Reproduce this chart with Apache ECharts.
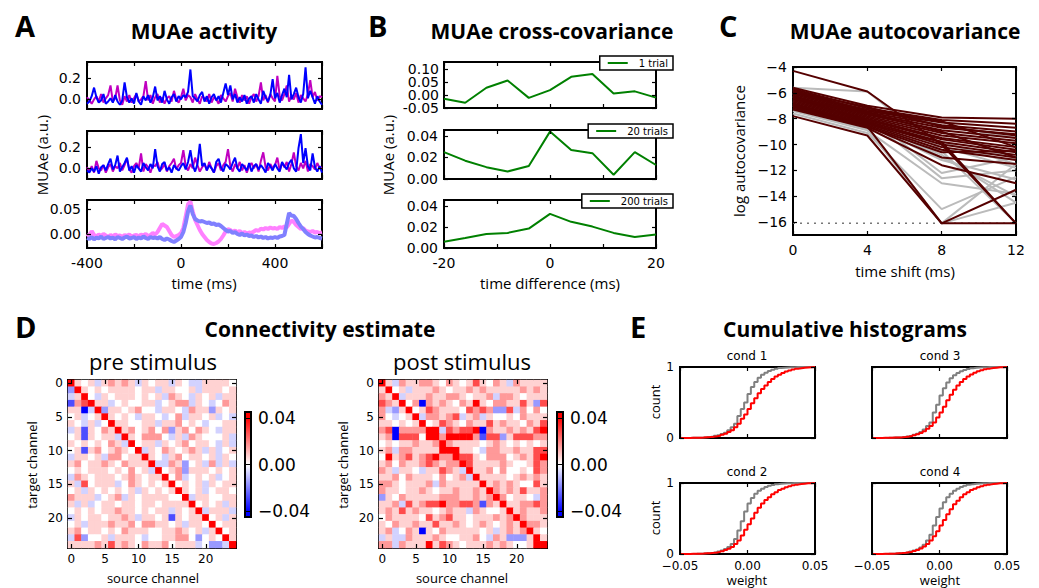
<!DOCTYPE html>
<html>
<head>
<meta charset="utf-8">
<title>MUAe figure</title>
<script src="https://cdn.jsdelivr.net/npm/echarts@6/dist/echarts.min.js"></script>
<style>
  html, body { margin: 0; padding: 0; background: #fff; }
  #chart { width: 1039px; height: 588px; }
</style>
</head>
<body>
<div id="chart"></div>
<script>
  // ---------------- data ----------------
  // A: MUAe activity, sampled every 10 ms from -400 to 600 ms
  const timeMs = [];
  for (let t = -400; t <= 600; t += 10) timeMs.push(t);

  const magentaTrial1 = [
    0.02, -0.01, -0.04, 0.00, 0.03, -0.02, 0.05, -0.03, 0.01, 0.04,
    0.13, -0.02, 0.01, 0.13, -0.01, -0.05, 0.03, -0.02, 0.04, -0.03,
    0.01, 0.05, -0.02, 0.00, 0.03, 0.17, -0.01, 0.04, -0.04, 0.02,
    0.05, -0.03, 0.02, -0.04, 0.01, 0.03, -0.02, 0.08, 0.00, -0.03,
    0.02, 0.10, -0.01, 0.04, 0.02, -0.03, 0.05, 0.00, -0.04, 0.03,
    0.01, -0.02, 0.05, -0.03, 0.02, 0.00, -0.04, 0.04, 0.01, -0.02,
    0.03, 0.06, -0.02, 0.10, 0.02, -0.03, 0.04, -0.01, 0.03, -0.04,
    0.02, 0.05, -0.02, 0.03, 0.16, -0.01, 0.04, -0.03, 0.05, 0.01,
    -0.02, 0.22, 0.03, -0.01, 0.05, 0.13, -0.02, 0.03, 0.00, 0.06,
    -0.03, 0.04, 0.01, -0.02, 0.05, 0.18, 0.02, 0.07, -0.01, 0.03,
    0.02
  ];
  const blueTrial1 = [
    -0.04, -0.02, 0.03, 0.11, 0.02, -0.03, -0.01, 0.05, -0.04, -0.02,
    0.01, -0.03, 0.04, -0.02, -0.05, -0.01, 0.16, 0.02, -0.03, 0.01,
    -0.04, 0.06, -0.02, -0.05, 0.03, -0.01, 0.04, -0.03, 0.02, 0.12,
    -0.01, 0.03, -0.03, 0.08, 0.00, -0.04, 0.02, 0.05, -0.02, 0.03,
    0.00, 0.04, 0.02, 0.07, 0.28, 0.03, 0.01, -0.02, 0.04, 0.07,
    -0.02, 0.03, -0.04, 0.02, 0.05, -0.01, 0.03, -0.03, 0.06, 0.15,
    0.04, 0.13, 0.00, 0.05, -0.03, 0.02, -0.02, 0.04, -0.04, 0.01,
    0.03, -0.03, 0.05, 0.00, -0.04, 0.08, 0.02, -0.02, 0.04, 0.19,
    0.01, 0.06, -0.03, 0.04, 0.10, 0.02, 0.23, 0.00, 0.05, 0.11,
    0.02, -0.03, 0.05, 0.30, 0.01, 0.08, 0.02, -0.04, 0.03, -0.02,
    -0.05
  ];
  const magentaTrial2 = [
    0.01, -0.03, 0.02, -0.04, 0.07, 0.00, -0.02, 0.03, -0.04, 0.01,
    0.04, -0.03, 0.02, 0.00, 0.05, -0.02, 0.03, 0.09, -0.01, -0.04,
    0.02, 0.05, 0.00, 0.14, -0.03, 0.04, 0.01, -0.04, 0.03, 0.02,
    0.06, -0.02, 0.00, 0.04, -0.03, 0.02, 0.05, 0.09, -0.01, 0.03,
    0.05, 0.17, 0.02, -0.02, 0.04, 0.00, 0.10, 0.03, -0.03, 0.01,
    0.04, -0.02, 0.06, 0.00, -0.04, 0.02, 0.05, -0.02, 0.03, 0.06,
    0.18, 0.02, -0.03, 0.04, 0.00, 0.06, -0.02, 0.03, -0.04, 0.02,
    0.05, 0.00, 0.04, -0.03, 0.07, 0.15, 0.01, -0.02, 0.04, 0.00,
    0.03, 0.10, -0.02, 0.05, 0.01, 0.06, -0.03, 0.04, 0.15, 0.02,
    -0.02, 0.05, 0.00, 0.07, -0.03, 0.04, 0.02, -0.01, 0.05, 0.00,
    0.01
  ];
  const blueTrial2 = [
    -0.02, -0.04, 0.00, -0.03, 0.02, -0.05, 0.01, 0.03, -0.02, 0.04,
    0.09, -0.01, 0.03, 0.12, -0.03, 0.01, 0.05, 0.10, -0.02, 0.02,
    -0.04, 0.03, 0.00, -0.03, 0.05, 0.01, -0.02, 0.04, 0.00, 0.18,
    0.02, -0.03, 0.04, 0.06, -0.02, 0.01, -0.04, 0.03, 0.00, -0.02,
    0.02, 0.05, -0.01, 0.06, 0.17, 0.03, -0.03, 0.04, 0.23, 0.02,
    0.05, -0.02, 0.03, 0.00, -0.04, 0.06, 0.09, 0.01, -0.03, 0.04,
    0.02, -0.01, 0.05, 0.10, 0.00, -0.03, 0.04, 0.01, -0.02, 0.05,
    -0.03, 0.02, 0.04, -0.01, 0.03, 0.00, -0.04, 0.05, 0.02, -0.02,
    0.04, 0.00, -0.03, 0.06, 0.02, -0.01, 0.05, 0.08, 0.00, -0.03,
    0.19, 0.32, 0.05, 0.19, 0.02, -0.02, 0.14, 0.01, -0.03, 0.02,
    -0.04
  ];
  const magentaAverage = [
    0.000, -0.004, 0.006, -0.002, -0.005, -0.001, -0.004, 0.000, -0.003, -0.006,
    -0.002, -0.005, -0.001, -0.004, -0.003, -0.006, -0.002, -0.004, -0.001, -0.005,
    -0.003, -0.002, -0.005, -0.001, -0.003, 0.000, -0.004, -0.002, 0.002, -0.001,
    0.004, 0.012, 0.020, 0.017, 0.014, 0.006, -0.002, -0.006, -0.004, -0.002,
    0.002, 0.012, 0.035, 0.060, 0.065, 0.045, 0.028, 0.018, 0.008, 0.000,
    -0.006, -0.012, -0.016, -0.019, -0.020, -0.018, -0.015, -0.010, -0.003, 0.005,
    0.010, 0.008, 0.004, 0.007, 0.003, 0.006, 0.002, 0.004, 0.001, 0.003,
    0.002, 0.005, 0.008, 0.006, 0.011, 0.009, 0.012, 0.010, 0.013, 0.011,
    0.012, 0.010, 0.014, 0.012, 0.015, 0.013, 0.020, 0.027, 0.024, 0.018,
    0.014, 0.010, 0.012, 0.007, 0.005, 0.004, 0.006, 0.003, 0.004, 0.002,
    0.003
  ];
  const blueAverage = [
    -0.008, -0.010, -0.006, -0.011, -0.007, -0.009, -0.005, -0.010, -0.008, -0.006,
    -0.009, -0.007, -0.011, -0.006, -0.008, -0.010, -0.007, -0.005, -0.009, -0.008,
    -0.006, -0.010, -0.007, -0.009, -0.005, -0.008, -0.010, -0.006, -0.008, -0.007,
    -0.009, -0.006, -0.010, -0.012, -0.009, -0.011, -0.014, -0.016, -0.013, -0.010,
    -0.006, 0.004, 0.022, 0.045, 0.057, 0.040, 0.030, 0.027, 0.025, 0.026,
    0.024, 0.022, 0.023, 0.020, 0.021, 0.018, 0.019, 0.016, 0.012, 0.008,
    0.005, 0.006, 0.002, 0.004, 0.000, -0.002, 0.001, -0.003, -0.001, -0.004,
    -0.003, -0.006, -0.004, -0.007, -0.005, -0.008, -0.006, -0.009, -0.007, -0.008,
    -0.006, -0.008, -0.005, -0.004, -0.002, 0.020, 0.042, 0.037, 0.036, 0.030,
    0.022, 0.015, 0.010, 0.004, 0.000, -0.003, -0.005, -0.007, -0.006, -0.008,
    -0.009
  ];

  // B: cross-covariance vs. time difference
  const lagMs = [-20, -16, -12, -8, -4, 0, 4, 8, 12, 16, 20];
  const xcov1Trial = [-0.014, -0.030, 0.028, 0.056, -0.011, 0.019, 0.070, 0.081, 0.006, 0.014, -0.010];
  const xcov20Trials = [0.025, 0.017, 0.011, 0.007, 0.012, 0.044, 0.027, 0.024, 0.004, 0.025, 0.013];
  const xcov200Trials = [0.006, 0.0095, 0.0133, 0.0143, 0.0184, 0.0324, 0.0248, 0.0203, 0.0143, 0.0105, 0.0127];

  // C: log autocovariance at time shifts 0, 4, 8, 12 ms
  const shiftMs = [0, 4, 8, 12];
  const floorLevel = -16.1;
  const grayLines = [
    [-5.6, -5.9, -10.5, -16.1],
    [-6.2, -7.8, -12.2, -11.0],
    [-6.5, -8.0, -12.6, -12.0],
    [-6.8, -8.4, -11.2, -12.7],
    [-7.0, -8.6, -16.1, -11.5],
    [-7.2, -8.8, -16.1, -14.5],
    [-6.6, -8.1, -11.0, -14.0],
    [-6.9, -8.3, -10.8, -14.5],
    [-7.4, -8.9, -13.0, -13.8],
    [-6.0, -7.5, -9.0, -11.0],
    [-6.3, -7.8, -9.8, -11.5],
    [-5.8, -7.2, -8.5, -9.5],
    [-6.1, -7.9, -10.2, -11.8],
    [-7.6, -9.1, -15.0, -12.5],
    [-6.7, -8.3, -10.5, -10.8]
  ];
  const darkLines = [
    [-4.3, -5.9, -10.0, -16.1],
    [-5.6, -7.0, -7.9, -8.0],
    [-5.7, -7.2, -8.1, -8.4],
    [-5.8, -7.4, -8.3, -8.7],
    [-5.9, -7.5, -8.5, -9.0],
    [-6.0, -7.6, -8.7, -9.2],
    [-6.1, -7.7, -8.9, -9.5],
    [-6.2, -7.8, -9.1, -9.7],
    [-6.3, -7.9, -9.3, -9.9],
    [-6.4, -8.0, -9.5, -10.2],
    [-6.5, -8.1, -9.6, -10.4],
    [-6.6, -8.2, -9.8, -10.6],
    [-6.7, -8.3, -10.0, -10.8],
    [-6.8, -8.4, -10.2, -11.0],
    [-6.9, -8.5, -10.4, -11.2],
    [-7.0, -8.6, -10.6, -10.5],
    [-7.2, -8.6, -11.0, -11.5],
    [-7.3, -8.7, -11.6, -13.0],
    [-7.8, -9.3, -16.1, -13.5],
    [-7.1, -8.6, -16.1, -16.1],
    [-6.9, -8.4, -9.8, -16.1],
    [-6.0, -7.3, -8.2, -10.2],
    [-6.4, -7.6, -9.0, -11.0],
    [-5.9, -7.1, -8.6, -9.3]
  ];

  // D: connectivity, one string per target channel; each digit is a level,
  // looked up in connLevels (4 = zero, 8 = strongest positive)
  const connLevels = [-0.04, -0.028, -0.016, -0.007, 0, 0.007, 0.016, 0.028, 0.04];
  const preStimRows = [
    '85453 56565 35455 35433 55554',
    '28545 45555 45535 54453 55545',
    '35843 54555 45453 65435 45355',
    '16785 53454 45534 56635 43465',
    '55038 25545 64435 54365 52545',
    '45345 85454 35543 46355 45343',
    '54353 48554 45535 56454 34455',
    '35154 65856 45646 25646 54355',
    '45154 55385 46664 35365 44453',
    '54545 46538 45535 45645 54353',
    '45156 45654 83546 54565 35345',
    '35545 36645 58543 56455 45354',
    '56455 65465 55833 65245 36353',
    '45455 54546 45384 56255 54545',
    '36545 55456 54558 46345 45345',
    '53745 55346 54545 84545 35455',
    '45354 54545 35454 58545 34554',
    '65553 45635 45555 44835 54455',
    '53534 55455 45545 55584 54535',
    '45454 55655 45455 35458 35553',
    '35455 45565 35545 15455 84535',
    '45355 56556 46655 45355 48455',
    '56455 45465 55445 56545 35845',
    '37244 53555 43445 56642 45485',
    '55556 57565 46556 45553 42238'
  ];
  const postStimRows = [
    '85365 56654 65457 54653 65555',
    '58453 55565 45565 65555 56565',
    '65835 55655 66545 56366 54555',
    '76584 60656 54658 54665 57527',
    '63258 45765 55476 76227 36464',
    '64345 83665 67356 35445 46555',
    '55454 58457 65465 57565 54657',
    '67066 66883 76778 06556 56578',
    '56077 74886 88886 17725 77766',
    '45455 65568 65555 45654 54545',
    '56366 55558 88554 36655 65577',
    '48567 56786 68775 46664 56578',
    '56465 56765 66875 55565 44576',
    '65355 43557 65385 56464 45476',
    '55646 55546 45638 55554 56565',
    '66545 55636 55555 85656 54475',
    '65545 56545 56556 58656 57556',
    '25465 55556 66556 56864 55436',
    '55637 56778 66776 16585 56676',
    '56575 65545 65536 54458 56556',
    '46555 54756 75545 55656 86555',
    '54655 65575 56545 65456 58665',
    '56346 50546 55555 45356 56854',
    '35336 55565 44556 43652 22585',
    '66365 55857 65455 56565 44588'
  ];
  const colorbarTicks = [-0.04, 0, 0.04];

  // E: cumulative histograms, bins of 0.0025 from -0.05 to 0.05
  const weightBins = [];
  for (let i = 0; i <= 40; i++) weightBins.push(Math.round((-0.05 + i * 0.0025) * 10000) / 10000);
  const grayCond1 = [0, 0, 0, 0.002, 0.003, 0.005, 0.007, 0.01, 0.015, 0.02, 0.03, 0.04, 0.055, 0.075, 0.11, 0.15, 0.2, 0.31, 0.41, 0.5, 0.62, 0.72, 0.79, 0.85, 0.89, 0.92, 0.945, 0.96, 0.975, 0.985, 0.99, 0.994, 0.997, 0.998, 0.999, 1, 1, 1, 1, 1, 1];
  const redCond1 = [0, 0, 0.001, 0.002, 0.003, 0.005, 0.007, 0.01, 0.013, 0.018, 0.025, 0.033, 0.045, 0.06, 0.085, 0.11, 0.15, 0.2, 0.27, 0.33, 0.41, 0.49, 0.56, 0.63, 0.69, 0.74, 0.79, 0.83, 0.865, 0.89, 0.915, 0.935, 0.95, 0.965, 0.975, 0.983, 0.99, 0.994, 0.997, 0.999, 1];
  const grayCond2 = [0, 0, 0, 0.001, 0.002, 0.004, 0.006, 0.009, 0.013, 0.018, 0.026, 0.036, 0.05, 0.07, 0.1, 0.14, 0.21, 0.33, 0.46, 0.6, 0.71, 0.79, 0.85, 0.89, 0.92, 0.945, 0.96, 0.972, 0.982, 0.989, 0.993, 0.996, 0.998, 0.999, 1, 1, 1, 1, 1, 1, 1];
  const redCond2 = [0, 0, 0.001, 0.002, 0.003, 0.004, 0.006, 0.009, 0.012, 0.016, 0.022, 0.03, 0.04, 0.055, 0.075, 0.1, 0.14, 0.19, 0.26, 0.34, 0.42, 0.5, 0.58, 0.65, 0.71, 0.76, 0.8, 0.84, 0.87, 0.9, 0.92, 0.94, 0.955, 0.967, 0.977, 0.985, 0.991, 0.995, 0.998, 0.999, 1];
  const grayCond3 = [0, 0, 0, 0.001, 0.002, 0.004, 0.006, 0.008, 0.012, 0.017, 0.024, 0.033, 0.045, 0.06, 0.085, 0.12, 0.17, 0.22, 0.36, 0.47, 0.6, 0.7, 0.78, 0.84, 0.885, 0.915, 0.94, 0.958, 0.972, 0.982, 0.989, 0.993, 0.996, 0.998, 0.999, 1, 1, 1, 1, 1, 1];
  const redCond3 = [0, 0, 0.001, 0.002, 0.003, 0.004, 0.006, 0.008, 0.011, 0.015, 0.021, 0.028, 0.038, 0.052, 0.07, 0.095, 0.13, 0.17, 0.22, 0.29, 0.36, 0.44, 0.53, 0.61, 0.68, 0.74, 0.79, 0.83, 0.865, 0.895, 0.92, 0.94, 0.955, 0.967, 0.977, 0.985, 0.991, 0.995, 0.998, 0.999, 1];
  const grayCond4 = [0, 0, 0, 0.001, 0.002, 0.004, 0.006, 0.009, 0.013, 0.018, 0.025, 0.035, 0.048, 0.065, 0.09, 0.13, 0.19, 0.27, 0.4, 0.52, 0.64, 0.73, 0.8, 0.85, 0.89, 0.92, 0.945, 0.962, 0.975, 0.984, 0.99, 0.994, 0.997, 0.998, 0.999, 1, 1, 1, 1, 1, 1];
  const redCond4 = [0, 0, 0.001, 0.002, 0.003, 0.005, 0.007, 0.01, 0.013, 0.017, 0.023, 0.031, 0.042, 0.057, 0.078, 0.105, 0.14, 0.19, 0.25, 0.32, 0.4, 0.48, 0.56, 0.63, 0.7, 0.75, 0.8, 0.84, 0.87, 0.9, 0.92, 0.94, 0.955, 0.967, 0.977, 0.985, 0.991, 0.995, 0.998, 0.999, 1];

  // ---------------- helpers ----------------
  const TICK_FONT = 'DejaVu Sans';
  const MINUS = '\u2212';

  const grids = [], xAxes = [], yAxes = [], series = [];

  function zip(xs, ys) {
    return xs.map((x, i) => [x, ys[i]]);
  }

  function decodeRows(rows) {
    return rows.map(r => r.replace(/ /g, '').split('').map(c => connLevels[Number(c)]));
  }

  function axisCfg(gi, pos, o, main) {
    const cat = o.type === 'category';
    const ax = {
      type: o.type || 'value',
      gridIndex: gi,
      position: pos,
      inverse: !!o.inverse,
      axisLine: { show: false, onZero: false },
      splitLine: { show: false },
      axisTick: {
        show: o.showTicks !== false, inside: true, length: o.tickLen || 4,
        lineStyle: { color: '#000', width: 1.2 }
      },
      axisLabel: {
        show: main && !!o.labels, hideOverlap: false,
        color: '#000', fontFamily: TICK_FONT, fontSize: o.fs || 14, margin: o.margin || 6
      },
      z: 10
    };
    if (o.lineHeight) ax.axisLabel.lineHeight = o.lineHeight;
    if (cat) {
      ax.data = o.data;
      ax.boundaryGap = true;
      ax.axisTick.alignWithLabel = true;
      ax.axisTick.interval = o.interval;
      ax.axisLabel.interval = o.interval;
    } else {
      ax.min = o.min;
      ax.max = o.max;
      ax.axisTick.customValues = o.ticks;
      ax.axisLabel.customValues = o.labelValues || o.ticks;
      ax.axisLabel.showMinLabel = true;
      ax.axisLabel.showMaxLabel = true;
      if (o.fmt) ax.axisLabel.formatter = o.fmt;
    }
    return ax;
  }

  // a matplotlib-like boxed axes: labels bottom/left, mirrored ticks top/right
  function frame(box, x, y) {
    const gi = grids.length;
    grids.push({
      left: box[0], top: box[1], width: box[2], height: box[3],
      show: true, borderColor: '#000', borderWidth: 2, backgroundColor: 'transparent',
      containLabel: false, outerBoundsMode: 'none'
    });
    const xi = xAxes.length, yi = yAxes.length;
    xAxes.push(axisCfg(gi, 'bottom', x, true), axisCfg(gi, 'top', x, false));
    yAxes.push(axisCfg(gi, 'left', y, true), axisCfg(gi, 'right', y, false));
    return { xi, yi, gi };
  }

  function line(ax, data, color, width, extra) {
    series.push(Object.assign({
      type: 'line', xAxisIndex: ax.xi, yAxisIndex: ax.yi, data: data,
      showSymbol: false, symbol: 'none', silent: true, clip: true,
      color: color, itemStyle: { color: color },
      lineStyle: { color: color, width: width }
    }, extra || {}));
  }

  const graphics = [];
  function txt(text, x, y, font, o) {
    o = o || {};
    graphics.push({
      type: 'text', x: x, y: y, rotation: o.rot || 0, silent: true,
      style: {
        text: text, font: font, fill: '#000',
        textAlign: o.align || 'center', align: o.align || 'center',
        textVerticalAlign: 'middle', verticalAlign: 'middle'
      }
    });
  }

  const fmt1 = v => (v < 0 ? '-' : '') + Math.abs(v).toFixed(1);
  const fmt2 = v => (v < 0 ? '-' : '') + Math.abs(v).toFixed(2);
  const fmtM2 = v => (v < 0 ? MINUS : '') + Math.abs(v).toFixed(2);
  const fmtInt = v => (v < 0 ? '-' : '') + Math.abs(v);
  const fmtMInt = v => (v < 0 ? MINUS : '') + Math.abs(v);

  // ---------------- panel A ----------------
  const timeX = { min: -400, max: 600, ticks: [-400, -200, 0, 200, 400, 600], labelValues: [-400, 0, 400], fmt: fmtInt, fs: 14, margin: 8 };
  const a1 = frame([87, 62, 235, 47], Object.assign({}, timeX, { labels: false }),
    { min: -0.09, max: 0.35, ticks: [0, 0.2], labels: true, fmt: fmt1 });
  const a2 = frame([87, 131, 235, 48], Object.assign({}, timeX, { labels: false }),
    { min: -0.1, max: 0.35, ticks: [0, 0.2], labels: true, fmt: fmt1 });
  const a3 = frame([87, 200, 235, 48], Object.assign({}, timeX, { labels: true }),
    { min: -0.028, max: 0.068, ticks: [0, 0.05], labels: true, fmt: fmt2 });
  line(a1, zip(timeMs, magentaTrial1), '#c000c0', 2);
  line(a1, zip(timeMs, blueTrial1), '#0000ff', 2);
  line(a2, zip(timeMs, magentaTrial2), '#c000c0', 2);
  line(a2, zip(timeMs, blueTrial2), '#0000ff', 2);
  line(a3, zip(timeMs, magentaAverage), '#ff80ff', 4);
  line(a3, zip(timeMs, blueAverage), '#8080ff', 4);

  // ---------------- panel B ----------------
  const lagX = { min: -20, max: 20, ticks: [-20, -10, 0, 10, 20], labelValues: [-20, 0, 20], fmt: fmtInt, fs: 14, margin: 8 };
  const b1Y = { min: -0.05, max: 0.127, ticks: [-0.05, 0, 0.05, 0.1], labelValues: [0, 0.1], labels: true, fmt: fmt2, margin: 5, fs: 14, lineHeight: 12 };
  const b1 = frame([444, 62, 212, 46], Object.assign({}, lagX, { labels: false }), b1Y);
  // the labels of this panel sit close together: the other half goes on a twin left axis
  yAxes.push(axisCfg(b1.gi, 'left', Object.assign({}, b1Y, { labelValues: [-0.05, 0.05], showTicks: false }), true));
  const b2 = frame([444, 130, 212, 49], Object.assign({}, lagX, { labels: false }),
    { min: 0, max: 0.0455, ticks: [0, 0.02, 0.04], labels: true, fmt: fmt2 });
  const b3 = frame([444, 200, 212, 48], Object.assign({}, lagX, { labels: true }),
    { min: 0, max: 0.0455, ticks: [0, 0.02, 0.04], labels: true, fmt: fmt2 });
  line(b1, zip(lagMs, xcov1Trial), '#008000', 2, { name: '1 trial' });
  line(b2, zip(lagMs, xcov20Trials), '#008000', 2, { name: '20 trials' });
  line(b3, zip(lagMs, xcov200Trials), '#008000', 2, { name: '200 trials' });

  // ---------------- panel C ----------------
  const c1 = frame([793, 67, 223, 168],
    { min: 0, max: 12, ticks: [0, 4, 8, 12], labels: true, fmt: fmtMInt, fs: 14, margin: 8 },
    { min: -17, max: -4, ticks: [-16, -14, -12, -10, -8, -6, -4], labels: true, fmt: fmtMInt, fs: 14 });
  line(c1, [[shiftMs[0], floorLevel], [shiftMs[3], floorLevel]], '#777', 1.5, { lineStyle: { color: '#777', width: 1.5, type: [2, 5] } });
  grayLines.forEach(v => line(c1, zip(shiftMs, v), '#bbbbbb', 2));
  darkLines.forEach(v => line(c1, zip(shiftMs, v), '#550000', 2));

  // ---------------- panel D ----------------
  const channels = [];
  for (let i = 0; i < 25; i++) channels.push(String(i));
  const every5 = idx => idx % 5 === 0;
  function heatmapPanel(box, rows) {
    const ax = frame(box,
      { type: 'category', data: channels, interval: every5, labels: true, fs: 12, margin: 5 },
      { type: 'category', data: channels, interval: every5, labels: true, inverse: true, fs: 12, margin: 5 });
    const vals = decodeRows(rows);
    const data = [];
    vals.forEach((row, r) => row.forEach((v, c) => data.push([c, r, v])));
    series.push({
      type: 'heatmap', xAxisIndex: ax.xi, yAxisIndex: ax.yi, data: data,
      silent: true, itemStyle: { borderWidth: 0 }, z: 1
    });
    return series.length - 1;
  }
  const preIdx = heatmapPanel([68, 380, 168, 168], preStimRows);
  const postIdx = heatmapPanel([379, 380, 168, 168], postStimRows);

  const bwr = ['#0000ff', '#ffffff', '#ff0000'];
  function colorbar(box) {
    const gi = grids.length;
    grids.push({
      left: box[0], top: box[1], width: box[2], height: box[3],
      show: true, borderColor: '#000', borderWidth: 2,
      backgroundColor: new echarts.graphic.LinearGradient(0, 0, 0, 1, [
        { offset: 0, color: '#ff0000' }, { offset: 0.056, color: '#ff0000' },
        { offset: 0.5, color: '#ffffff' },
        { offset: 0.944, color: '#0000ff' }, { offset: 1, color: '#0000ff' }
      ]),
      containLabel: false, outerBoundsMode: 'none'
    });
    xAxes.push({ type: 'value', gridIndex: gi, show: false, min: 0, max: 1 });
    yAxes.push({
      type: 'value', gridIndex: gi, position: 'right', min: -0.045, max: 0.045,
      axisLine: { show: false, onZero: false }, splitLine: { show: false },
      axisTick: { show: true, inside: true, length: box[2], customValues: colorbarTicks, lineStyle: { color: '#000', width: 1 } },
      axisLabel: { customValues: colorbarTicks, formatter: fmtM2, color: '#000', fontFamily: TICK_FONT, fontSize: 17, margin: 7 }
    });
  }
  colorbar([245, 412, 6, 105]);
  colorbar([557, 412, 6, 105]);

  // ---------------- panel E ----------------
  function histPanel(box, xLabels, yLabels, gray, red) {
    const ax = frame(box,
      { min: -0.05, max: 0.05, ticks: [-0.05, 0, 0.05], labels: xLabels, fmt: fmtM2, fs: 12, margin: 6 },
      { min: 0, max: 1, ticks: [0, 1], labels: yLabels, fmt: v => String(v), fs: 12, margin: 6 });
    line(ax, zip(weightBins, gray), '#808080', 2, { step: 'end' });
    line(ax, zip(weightBins, red), '#ff0000', 2, { step: 'end' });
  }
  histPanel([680, 367, 135, 71], false, true, grayCond1, redCond1);
  histPanel([872, 367, 135, 71], false, false, grayCond3, redCond3);
  histPanel([680, 483, 135, 71], true, true, grayCond2, redCond2);
  histPanel([872, 483, 135, 71], true, false, grayCond4, redCond4);

  // ---------------- texts ----------------
  const LETTER = 'bold 29px "Open Sans"';
  const TITLE = 'bold 21px "Open Sans"';
  const NAME = '15px "Open Sans"';
  txt('A', 15, 25, LETTER, { align: 'left' });
  txt('MUAe activity', 204, 31, TITLE);
  txt('MUAe (a.u.)', 42, 155, NAME, { rot: Math.PI / 2 });
  txt('time (ms)', 204, 283, NAME);

  txt('B', 368, 25, LETTER, { align: 'left' });
  txt('MUAe cross-covariance', 552, 31, TITLE);
  txt('MUAe (a.u.)', 388, 155, NAME, { rot: Math.PI / 2 });
  txt('time difference (ms)', 550, 283, NAME);

  txt('C', 719, 25, LETTER, { align: 'left' });
  txt('MUAe autocovariance', 905, 31, TITLE);
  txt('log autocovariance', 739, 151, NAME, { rot: Math.PI / 2 });
  txt('time shift (ms)', 905, 271, NAME);

  txt('D', 15, 326, LETTER, { align: 'left' });
  txt('Connectivity estimate', 320, 329, TITLE);
  txt('pre stimulus', 153, 361, '22px "Open Sans"');
  txt('post stimulus', 462, 361, '22px "Open Sans"');
  txt('target channel', 32, 465, '13px "Open Sans"', { rot: Math.PI / 2 });
  txt('target channel', 343, 465, '13px "Open Sans"', { rot: Math.PI / 2 });
  txt('source channel', 153, 578, '13px "Open Sans"');
  txt('source channel', 462, 578, '13px "Open Sans"');

  txt('E', 630, 326, LETTER, { align: 'left' });
  txt('Cumulative histograms', 845, 329, TITLE);
  txt('cond 1', 747, 356, '12px "DejaVu Sans"');
  txt('cond 3', 940, 356, '12px "DejaVu Sans"');
  txt('cond 2', 747, 472, '12px "DejaVu Sans"');
  txt('cond 4', 940, 472, '12px "DejaVu Sans"');
  txt('count', 655, 402, '13px "Open Sans"', { rot: Math.PI / 2 });
  txt('count', 655, 518, '13px "Open Sans"', { rot: Math.PI / 2 });
  txt('weight', 747, 580, '13px "Open Sans"');
  txt('weight', 940, 580, '13px "Open Sans"');

  // legends of panel B
  function legendBox(name, right, top) {
    return {
      data: [name], right: right, top: top, orient: 'horizontal',
      backgroundColor: '#fff', borderColor: '#000', borderWidth: 1.5, borderRadius: 0,
      padding: [2, 5, 2, 8], itemWidth: 20, itemHeight: 2, itemGap: 4, icon: 'rect',
      selectedMode: false, z: 20,
      textStyle: { fontFamily: TICK_FONT, fontSize: 10, color: '#000', padding: [0, 0, 0, 6] }
    };
  }

  const chart = echarts.init(document.getElementById('chart'), null, { renderer: 'svg' });
  chart.setOption({
    animation: false,
    backgroundColor: '#fff',
    grid: grids,
    xAxis: xAxes,
    yAxis: yAxes,
    legend: [legendBox('1 trial', 366, 56), legendBox('20 trials', 366, 124), legendBox('200 trials', 366, 194)],
    visualMap: [
      { type: 'continuous', show: false, seriesIndex: preIdx, dimension: 2, min: -0.04, max: 0.04, inRange: { color: bwr } },
      { type: 'continuous', show: false, seriesIndex: postIdx, dimension: 2, min: -0.04, max: 0.04, inRange: { color: bwr } }
    ],
    graphic: graphics,
    series: series
  });
</script>
</body>
</html>
